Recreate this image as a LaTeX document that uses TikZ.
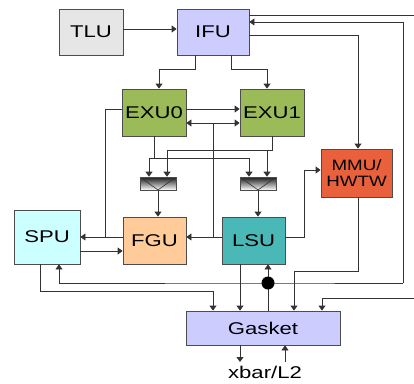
\documentclass[tikz,border=0pt]{standalone}
\usepackage{fontspec}
\setmainfont{Liberation Sans}
\usetikzlibrary{arrows.meta,calc}
\newcommand\stretchtxt[1]{\scalebox{1.3}[1]{#1}}
\definecolor{tluC}{HTML}{E6E6E6}
\definecolor{ifuC}{HTML}{CCCCFF}
\definecolor{exuC}{HTML}{9BBB59}
\definecolor{mmuC}{HTML}{E8603C}
\definecolor{spuC}{HTML}{CCFFFF}
\definecolor{fguC}{HTML}{FFCC99}
\definecolor{lsuC}{HTML}{4BB8B8}
\definecolor{lineC}{HTML}{333333}
\tikzset{
  unit/.style={draw=black!70, line width=0.8pt, inner sep=0pt,
    font=\fontsize{17}{19}\selectfont},
  mux/.style={draw=black!70, line width=0.6pt, inner sep=0pt,
    minimum width=36, minimum height=13,
    top color=black!90, bottom color=white,
    path picture={\draw[black!80, line width=0.6pt]
      (path picture bounding box.north west) --
      (path picture bounding box.south) --
      (path picture bounding box.north east);}},
  wire/.style={draw=lineC, line width=0.8pt},
  arr/.style={wire, -{Triangle[width=7pt,length=5pt]}},
  darr/.style={wire, {Triangle[width=7pt,length=5pt]}-{Triangle[width=7pt,length=5pt]}},
}
\begin{document}
\begin{tikzpicture}[x=1pt, y=-1pt]
\useasboundingbox (0,0) rectangle (414,383);

% functional units
\node[unit, fill=tluC, minimum width=64, minimum height=46] (TLU) at (91,32) {\stretchtxt{TLU}};
\node[unit, fill=ifuC, minimum width=72, minimum height=46] (IFU) at (213,32) {\stretchtxt{IFU}};
\node[unit, fill=exuC, minimum width=64, minimum height=47] (EXU0) at (154,112.5) {\stretchtxt{EXU0}};
\node[unit, fill=exuC, minimum width=64, minimum height=47] (EXU1) at (272,112.5) {\stretchtxt{EXU1}};
\node[unit, fill=mmuC, minimum width=71, minimum height=48, align=center,
      font=\fontsize{15}{16}\selectfont] (MMU) at (356.5,173)
      {\scalebox{1.25}[1]{MMU/}\\\scalebox{1.25}[1]{HWTW}};
\node[unit, fill=spuC, minimum width=66, minimum height=54] (SPU) at (47,237) {\stretchtxt{SPU}};
\node[unit, fill=fguC, minimum width=63, minimum height=47] (FGU) at (154.5,240.5) {\stretchtxt{FGU}};
\node[unit, fill=lsuC, minimum width=63, minimum height=47] (LSU) at (253.5,240.5) {\stretchtxt{LSU}};
\node[unit, fill=ifuC, minimum width=154, minimum height=34] (GSK) at (263,328) {\stretchtxt{Gasket}};
\node[font=\fontsize{17}{19}\selectfont, inner sep=0pt] (L2) at (265,372.5) {\stretchtxt{xbar/L2}};

% result multiplexers
\node[mux] (muxL) at (158,183.5) {};
\node[mux] (muxR) at (258,183.5) {};

% free ends at the right border
\coordinate (outA) at (414,15);
\coordinate (inB) at (414,298);
\coordinate (busR) at (403,283);
\coordinate (busJ) at (268,283);

% TLU -> IFU
\draw[arr] (TLU.east |- 0,29) -- (IFU.west |- 0,29);
% IFU outgoing to the right
\draw[wire] (IFU.east |- 0,15) -- (outA);
% IFU -> MMU
\draw[arr] (IFU.east |- 0,35) -- (358,35) -- (MMU.north -| 358,0);
% IFU -> EXU0 / EXU1
\draw[arr] (IFU.south -| 195,0) -- (195,69) -- (159,69) -- (EXU0.north -| 159,0);
\draw[arr] (IFU.south -| 231,0) -- (231,69) -- (267,69) -- (EXU1.north -| 267,0);
% EXU0 <-> EXU1
\draw[arr] (EXU0.east |- 0,109) -- (EXU1.west |- 0,109);
\draw[darr] (EXU0.east |- 0,123) -- (EXU1.west |- 0,123);
\draw[wire] (213,123) -- (213,237);
% LSU -> FGU
\draw[arr] (LSU.west |- 0,237) -- (FGU.east |- 0,237);
% EXU0 / FGU -> SPU
\draw[wire] (EXU0.west |- 0,109) -- (105,109) -- (105,237);
\draw[arr] (FGU.west |- 0,237) -- (SPU.east |- 0,237);
% SPU -> FGU
\draw[arr] (SPU.east |- 0,251) -- (FGU.west |- 0,251);
% EXU0 results to both multiplexers
\draw[wire] (EXU0.south -| 154,0) -- (154,158);
\draw[wire] (149,158) -- (249,158);
\draw[arr] (149,158) -- (muxL.north -| 149,0);
\draw[arr] (249,158) -- (muxR.north -| 249,0);
% EXU1 results to both multiplexers
\draw[wire] (EXU1.south -| 272,0) -- (272,150) -- (167,150);
\draw[arr] (167,150) -- (muxL.north -| 167,0);
\draw[arr] (267,150) -- (muxR.north -| 267,0);
% multiplexers -> FGU / LSU
\draw[arr] (muxL.south) -- (FGU.north -| muxL.south);
\draw[arr] (muxR.south) -- (LSU.north -| muxR.south);
% LSU -> MMU
\draw[arr] (LSU.east |- 0,237) -- (304,237) -- (304,170) -- (MMU.west |- 0,170);
% MMU -> Gasket
\draw[arr] (MMU.south -| 358,0) -- (358,271) -- (294,271) -- (GSK.north -| 294,0);
% SPU -> Gasket
\draw[arr] (SPU.south -| 40,0) -- (40,291) -- (213,291) -- (GSK.north -| 213,0);
% LSU -> Gasket
\draw[arr] (LSU.south -| 240,0) -- (GSK.north -| 240,0);
% incoming from the right -> Gasket
\draw[arr] (inB) -- (322,298) -- (GSK.north -| 322,0);
% Gasket return bus -> LSU, SPU, IFU
\draw[arr] (GSK.north -| busJ) -- (LSU.south -| busJ);
\draw[arr] (busR) -- (busJ) -- (59,283) -- (SPU.south -| 59,0);
\draw[arr] (busR) -- (403,22) -- (IFU.east |- 0,22);
\fill[black] (busJ) circle (6.5);
% Gasket <-> xbar/L2
\draw[arr] (GSK.south -| 240,0) -- (240,362);
\draw[arr] (285,362) -- (GSK.south -| 285,0);
\end{tikzpicture}
\end{document}
